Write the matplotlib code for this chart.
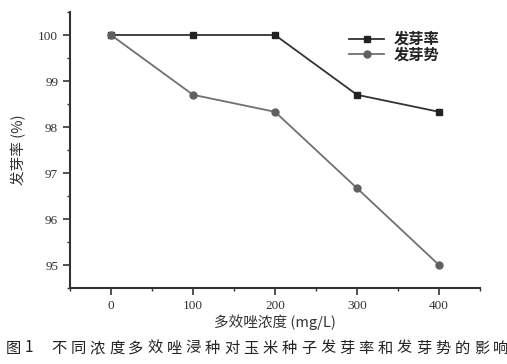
import matplotlib
matplotlib.use("Agg")
import matplotlib.pyplot as plt
from matplotlib.ticker import MultipleLocator

plt.rcParams['font.family'] = ['Noto Sans CJK SC', 'DejaVu Sans']

concentration = [0, 100, 200, 300, 400]
germination_rate = [100.0, 100.0, 100.0, 98.7, 98.33]
germination_vigor = [100.0, 98.7, 98.33, 96.67, 95.0]
series_labels = ['发芽率', '发芽势']
xlabel = '多效唑浓度 (mg/L)'
ylabel = '发芽率 (%)'
caption_head = ['图', '1']
caption_body = '不同浓度多效唑浸种对玉米种子发芽率和发芽势的影响'

W, H = 507, 364
fig = plt.figure(figsize=(W / 100, H / 100), dpi=100)
ax = fig.add_axes([70 / W, 1 - 288 / H, 410 / W, 276 / H])

ax.plot(concentration, germination_rate, color='#333333', marker='s', markersize=5,
        markerfacecolor='#222222', markeredgecolor='#222222',
        linewidth=1.3, label=series_labels[0])
ax.plot(concentration, germination_vigor, color='#707070', marker='o', markersize=5,
        markerfacecolor='#606060', markeredgecolor='#606060',
        linewidth=1.3, label=series_labels[1])

ax.set_xlim(-50, 450)
ax.set_ylim(94.5, 100.5)
ax.set_xticks(concentration)
ax.xaxis.set_minor_locator(MultipleLocator(50))
ax.yaxis.set_major_locator(MultipleLocator(1))
ax.yaxis.set_minor_locator(MultipleLocator(0.5))

for s in ['top', 'right']:
    ax.spines[s].set_visible(False)
for s in ['left', 'bottom']:
    ax.spines[s].set_linewidth(1.5)
    ax.spines[s].set_color('#333333')

ax.tick_params(axis='both', which='major', direction='out', length=5, width=1.2,
               colors='#333333', labelsize=9)
ax.tick_params(axis='both', which='minor', direction='out', length=2.5, width=1.0, colors='#333333')
for lbl in ax.get_xticklabels() + ax.get_yticklabels():
    lbl.set_fontfamily('Liberation Serif')
    lbl.set_fontsize(9.5)
    lbl.set_color('#333333')

ax.set_ylabel(ylabel, fontsize=10.5, color='#333333', labelpad=9)
ax.set_xlabel(xlabel, fontsize=10.5, color='#333333', labelpad=2)

leg = ax.legend(loc='upper left', bbox_to_anchor=(0.655, 0.97), frameon=False,
                fontsize=11, handlelength=2.3, handletextpad=0.6,
                labelspacing=-0.05, borderpad=0.2)
for t in leg.get_texts():
    t.set_fontweight('bold')
    t.set_color('#222222')

cap_y = 1 - 348 / H
fig.text(13 / W, cap_y, caption_head[0], ha='center', va='center', fontsize=11, color='#222222')
fig.text(29 / W, cap_y, caption_head[1], ha='center', va='center', fontsize=11, color='#222222')
for i, ch in enumerate(caption_body):
    fig.text((59 + 19.2 * i) / W, cap_y, ch, ha='center', va='center',
             fontsize=11, color='#222222')

fig.savefig('out.png', dpi=100)
